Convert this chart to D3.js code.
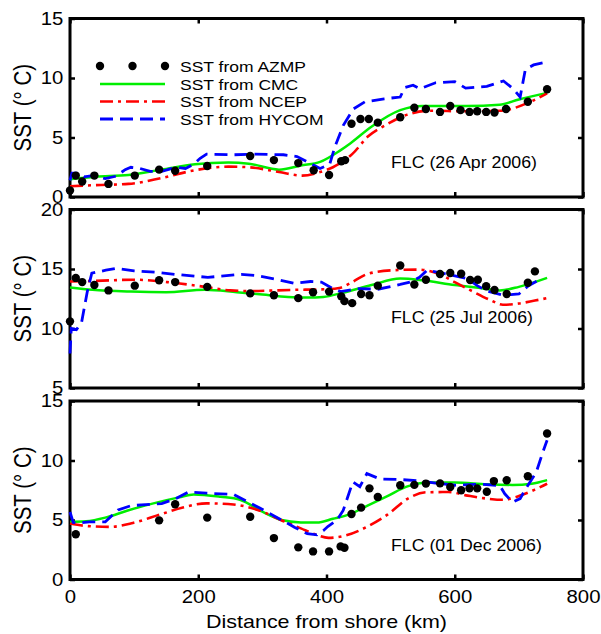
<!DOCTYPE html>
<html>
<head>
<meta charset="utf-8">
<script src="https://cdnjs.cloudflare.com/ajax/libs/d3/7.8.5/d3.min.js"></script>
<style>
  body { margin: 0; background: #fff; }
  text { font-family: "Liberation Sans", Arial, sans-serif; fill: #000; }
</style>
</head>
<body>
<svg id="chart" width="601" height="634"></svg>
<script>
// --- Data: [distance from shore (km), SST (deg C)] ---
const aprAzmp = [[0,0.55],[9,1.8],[19,1.3],[38,1.8],[60,1.1],[101,1.8],[139,2.3],[164,2.2],[214,2.6],[281,3.45],[318,3.1],[356,2.85],[380,2.25],[404,1.85],[423,3.0],[429,3.1],[439,6.15],[453,6.55],[466,6.55],[480,6.25],[515,6.7],[537,7.5],[555,7.4],[577,7.15],[593,7.65],[609,7.3],[623,7.15],[635,7.2],[649,7.15],[662,7.1],[680,7.4],[714,8.0],[744,9.05]];
const aprCmc = [[0,1.5],[40,1.7],[91,1.85],[143,2.3],[195,2.75],[247,2.9],[279,2.8],[326,2.3],[360,2.65],[390,2.95],[421,3.9],[437,4.5],[470,5.9],[515,7.3],[550,7.65],[619,7.65],[670,7.75],[700,8.2],[744,8.75]];
const aprNcep = [[0,0.9],[40,1.0],[91,1.1],[143,1.6],[195,2.25],[247,2.55],[279,2.5],[326,2.1],[362,1.8],[390,2.1],[410,2.5],[440,3.6],[465,5.1],[494,6.1],[525,6.9],[560,7.25],[619,7.2],[671,7.25],[718,8.0],[744,8.7]];
const aprHycom = [[0,1.4],[3,2.0],[13,2.0],[22,1.7],[35,1.8],[55,1.55],[72,1.75],[86,2.3],[95,2.5],[109,2.4],[125,2.15],[143,2.15],[165,2.5],[180,2.4],[193,2.75],[203,3.25],[213,3.6],[255,3.55],[286,3.6],[333,3.55],[354,3.4],[372,2.9],[390,2.4],[405,2.75],[413,4.2],[426,6.0],[442,7.4],[460,8.0],[490,8.25],[515,8.4],[522,9.2],[535,9.4],[546,9.1],[570,9.6],[600,9.7],[617,9.15],[650,9.3],[676,9.75],[691,9.1],[702,8.4],[710,10.7],[723,11.1],[740,11.3]];

const julAzmp = [[0,10.6],[9,14.25],[19,13.9],[38,13.65],[60,13.2],[101,13.6],[139,14.05],[164,13.9],[214,13.5],[281,12.95],[318,12.8],[356,12.55],[379,13.05],[404,13.1],[423,12.7],[428,12.3],[440,12.13],[454,12.9],[467,12.8],[480,13.6],[515,15.3],[537,13.7],[555,14.1],[577,14.58],[593,14.66],[610,14.6],[624,14.07],[636,14.1],[649,13.55],[662,13.23],[681,12.9],[714,13.85],[725,14.8]];
const julCmc = [[0,13.45],[35,13.25],[95,13.1],[150,13.05],[210,13.25],[260,13.05],[300,12.85],[340,12.65],[370,12.6],[395,12.65],[425,13.0],[470,13.65],[515,14.2],[550,14.05],[600,13.65],[640,13.4],[670,13.2],[700,13.5],[744,14.25]];
const julNcep = [[0,13.95],[40,14.0],[100,14.1],[160,13.85],[210,13.5],[250,13.2],[280,13.15],[350,13.25],[400,13.3],[420,13.4],[440,13.9],[465,14.6],[505,14.9],[540,14.95],[575,14.6],[600,13.9],[625,13.2],[655,12.4],[675,12.0],[700,12.1],[725,12.35],[744,12.55]];
const julHycom = [[0,7.9],[2,10.0],[10,9.9],[18,10.5],[27,13.1],[34,14.65],[56,14.9],[72,15.05],[100,14.85],[140,14.7],[164,14.55],[215,14.3],[267,14.55],[290,14.45],[320,14.15],[350,13.8],[375,13.95],[392,13.9],[410,13.35],[422,13.1],[450,13.35],[480,13.3],[515,13.7],[530,13.9],[545,14.3],[557,14.9],[590,14.55],[620,14.2],[635,13.6],[650,13.15],[675,12.8],[700,12.9],[715,13.6],[735,14.2]];

const decAzmp = [[9,3.8],[139,4.97],[164,6.32],[214,5.2],[281,5.27],[318,3.48],[356,2.7],[379,2.36],[404,2.36],[422,2.78],[428,2.67],[439,5.5],[454,6.04],[467,7.66],[480,6.94],[515,7.92],[537,7.95],[555,8.06],[577,8.08],[593,7.78],[610,7.5],[623,7.66],[635,7.66],[650,7.38],[661,8.27],[681,8.34],[714,8.68],[744,12.27]];
const decCmc = [[0,4.85],[25,4.9],[55,5.2],[90,5.8],[130,6.4],[170,6.9],[193,7.15],[235,6.95],[265,6.7],[300,5.7],[330,5.0],[360,4.8],[385,4.78],[410,5.1],[437,5.5],[464,6.2],[495,7.0],[525,7.8],[560,8.15],[600,8.15],[650,8.0],[690,7.95],[720,8.05],[744,8.35]];
const decNcep = [[0,4.7],[25,4.5],[62,4.42],[98,4.75],[140,5.45],[176,6.05],[213,6.4],[255,6.3],[295,5.8],[333,4.9],[360,4.3],[382,3.8],[403,3.5],[430,3.7],[462,4.4],[495,5.45],[527,6.8],[556,7.33],[590,7.35],[620,7.05],[650,6.8],[675,6.7],[702,7.05],[725,7.55],[744,8.05]];
const decHycom = [[0,5.67],[5,4.8],[16,4.75],[30,4.85],[55,4.85],[68,5.5],[75,5.85],[95,6.2],[118,6.3],[143,6.38],[165,6.8],[185,7.36],[213,7.25],[255,7.15],[296,6.0],[330,5.0],[350,4.4],[370,3.85],[385,3.75],[395,4.1],[402,4.45],[416,4.97],[426,5.8],[441,8.2],[452,7.8],[463,8.9],[483,8.45],[515,8.4],[545,8.3],[570,8.1],[600,7.92],[640,8.0],[670,7.9],[678,7.2],[690,6.5],[702,6.8],[712,7.75],[727,9.0],[738,10.8],[744,11.7]];

const panelLabels = ["FLC (26 Apr 2006)", "FLC (25 Jul 2006)", "FLC (01 Dec 2006)"];
const yDomains = [[0, 15], [5, 20], [0, 15]];
const yTickValues = [[0, 5, 10, 15], [5, 10, 15, 20], [0, 5, 10, 15]];
const xTickValues = [0, 200, 400, 600, 800];
const seriesNames = ["SST from AZMP", "SST from CMC", "SST from NCEP", "SST from HYCOM"];

const panels = [
  {azmp: aprAzmp, cmc: aprCmc, ncep: aprNcep, hycom: aprHycom},
  {azmp: julAzmp, cmc: julCmc, ncep: julNcep, hycom: julHycom},
  {azmp: decAzmp, cmc: decCmc, ncep: decNcep, hycom: decHycom}
];

// --- Layout ---
const svg = d3.select("#chart");
svg.append("rect").attr("width", 601).attr("height", 634).attr("fill", "#fff");

const left = 70, right = 583;
const panelTops = [18.5, 209.5, 401];
const panelH = 178.5;
const sx = 1.13; // glyphs in the reference are drawn a little wide

const x = d3.scaleLinear().domain([0, 800]).range([left, right]);

const lineStyles = {
  cmc:   {color: "#00ee00", dash: null,        width: 2.5, curve: d3.curveMonotoneX},
  ncep:  {color: "#ff0000", dash: "13,5,3,5",  width: 2.6, curve: d3.curveMonotoneX},
  hycom: {color: "#0000ff", dash: "13,7",      width: 2.8, curve: d3.curveLinear}
};

function addText(g, px, py, str, size, anchor) {
  return g.append("text")
    .attr("transform", `translate(${px},${py}) scale(${sx},1)`)
    .attr("text-anchor", anchor)
    .attr("font-size", size)
    .text(str);
}

panels.forEach((p, i) => {
  const top = panelTops[i], bottom = top + panelH;
  const y = d3.scaleLinear().domain(yDomains[i]).range([bottom, top]);
  const g = svg.append("g");

  // inward ticks on all four sides
  const styleAxis = a => {
    a.select(".domain").remove();
    a.selectAll("line").attr("stroke", "#000").attr("stroke-width", 2.5);
  };
  g.append("g").attr("transform", `translate(${left},0)`)
    .call(d3.axisLeft(y).tickValues(yTickValues[i]).tickSizeInner(-5).tickSizeOuter(0).tickPadding(6))
    .call(styleAxis)
    .selectAll("text")
      .attr("font-size", 18)
      .attr("font-family", "Liberation Sans, Arial, sans-serif")
      .attr("transform", `scale(${sx},1)`);
  g.append("g").attr("transform", `translate(${right},0)`)
    .call(d3.axisRight(y).tickValues(yTickValues[i]).tickSizeInner(-5).tickSizeOuter(0).tickFormat(""))
    .call(styleAxis);
  g.append("g").attr("transform", `translate(0,${top})`)
    .call(d3.axisTop(x).tickValues(xTickValues).tickSizeInner(-5).tickSizeOuter(0).tickFormat(""))
    .call(styleAxis);
  const bx = g.append("g").attr("transform", `translate(0,${bottom})`)
    .call(d3.axisBottom(x).tickValues(xTickValues).tickSizeInner(-5).tickSizeOuter(0).tickPadding(11))
    .call(styleAxis);
  if (i < 2) bx.selectAll("text").remove();
  else bx.selectAll("text")
    .attr("font-size", 18)
    .attr("font-family", "Liberation Sans, Arial, sans-serif")
    .attr("transform", `scale(${sx},1)`);

  // frame
  g.append("rect")
    .attr("x", left).attr("y", top)
    .attr("width", right - left).attr("height", panelH)
    .attr("fill", "none").attr("stroke", "#000").attr("stroke-width", 3);

  // model lines
  ["cmc", "ncep", "hycom"].forEach(k => {
    const s = lineStyles[k];
    g.append("path")
      .datum(p[k])
      .attr("fill", "none")
      .attr("stroke", s.color)
      .attr("stroke-width", s.width)
      .attr("stroke-dasharray", s.dash)
      .attr("d", d3.line().x(d => x(d[0])).y(d => y(d[1])).curve(s.curve));
  });

  // AZMP stations
  g.selectAll("circle.azmp")
    .data(p.azmp)
    .enter().append("circle")
      .attr("class", "azmp")
      .attr("cx", d => x(d[0]))
      .attr("cy", d => y(d[1]))
      .attr("r", 4.2)
      .attr("fill", "#000");

  addText(g, 391, [167.5, 323, 550.5][i], panelLabels[i], 15.7, "start");

  // y label
  g.append("text")
    .attr("transform", `translate(31,${(top + bottom) / 2}) scale(${sx},1) rotate(-90)`)
    .attr("text-anchor", "middle")
    .attr("font-size", 20.5)
    .text("SST (\u00b0 C)");
});

addText(svg, (left + right) / 2, 628, "Distance from shore (km)", 19, "middle");

// --- Legend (top panel) ---
const leg = svg.append("g");
const legRows = [66, 84, 101.5, 119];
const legX0 = 100, legX1 = 165;
[legX0, (legX0 + legX1) / 2, legX1].forEach(cx => {
  leg.append("circle").attr("cx", cx).attr("cy", legRows[0]).attr("r", 4.2).attr("fill", "#000");
});
["cmc", "ncep", "hycom"].forEach((k, j) => {
  const s = lineStyles[k];
  leg.append("line")
    .attr("x1", legX0).attr("x2", legX1)
    .attr("y1", legRows[j + 1]).attr("y2", legRows[j + 1])
    .attr("stroke", s.color)
    .attr("stroke-width", s.width)
    .attr("stroke-dasharray", s.dash);
});
seriesNames.forEach((name, j) => {
  addText(leg, 180, legRows[j] + 5.6, name, 15.5, "start");
});
</script>
</body>
</html>
